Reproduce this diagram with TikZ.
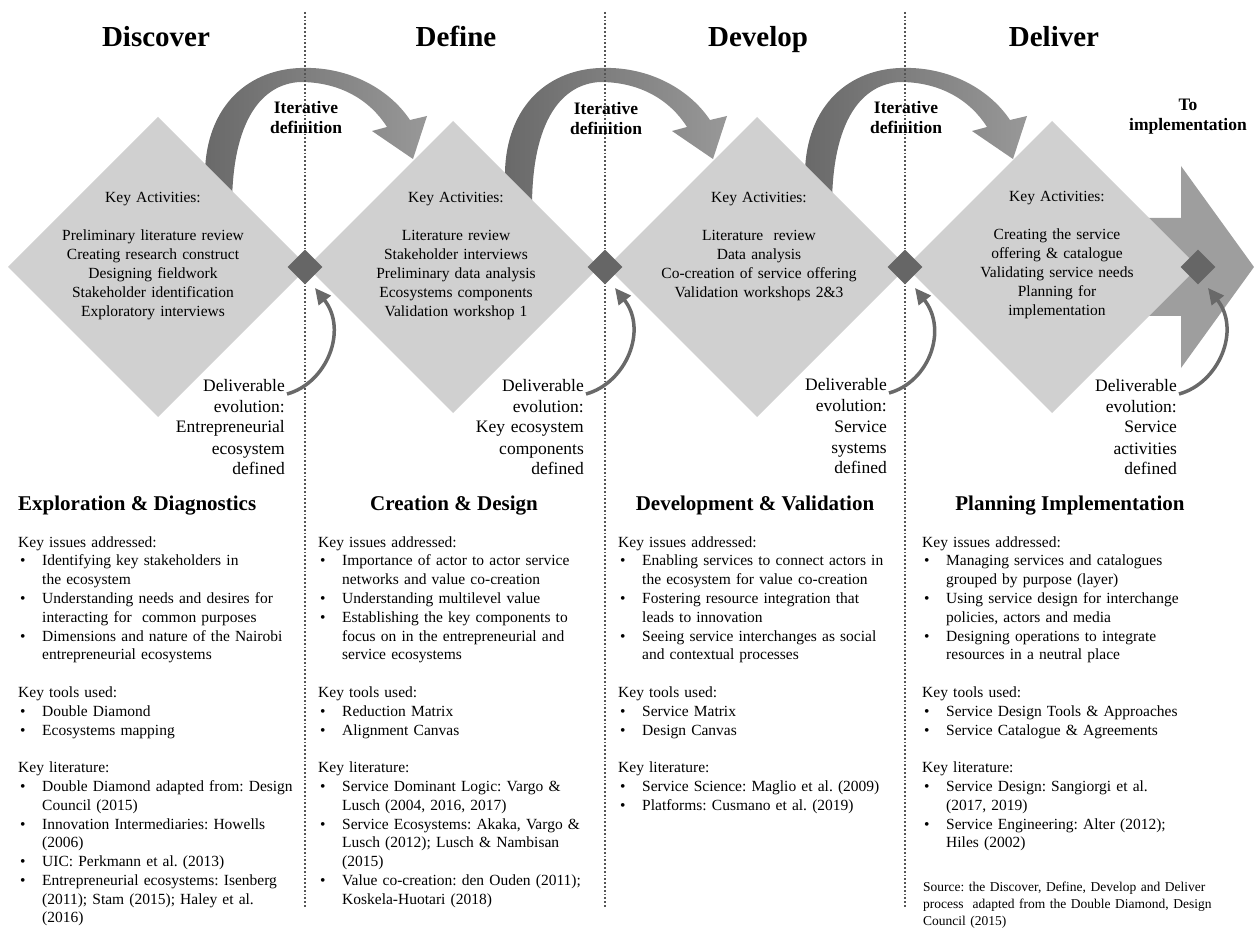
\documentclass[tikz,border=0pt]{standalone}
\usepackage{fontspec}
\setmainfont{Liberation Serif}
\usepackage{xcolor}
\usetikzlibrary{arrows.meta,shapes.geometric}
\definecolor{diamfill}{RGB}{208,208,208}
\definecolor{knotfill}{RGB}{102,102,102}
\definecolor{arcdark}{RGB}{105,105,105}
\definecolor{arclight}{RGB}{152,152,152}
\definecolor{bigarrow}{RGB}{158,158,158}
\definecolor{sepline}{RGB}{85,85,85}
\newcommand{\bul}[1]{\par\hangindent=24pt\hangafter=1\noindent\makebox[24pt][l]{\hspace{2pt}\textbullet}#1\par}
\newcommand{\blankrow}{\par\vspace{18.8pt}\noindent}
\frenchspacing

\begin{document}
\begin{tikzpicture}[x=1pt,y=-1pt,
 phase/.style={font=\fontsize{29}{34}\selectfont\bfseries,inner sep=0,anchor=base},
 bigdiam/.style={diamond,fill=diamfill,inner sep=0,outer sep=0,minimum width=#1,minimum height=#1},
 knot/.style={diamond,fill=knotfill,inner sep=0,minimum width=35,minimum height=35},
 acts/.style={font=\fontsize{15.5}{19}\selectfont,align=center,text width=240,inner sep=0,anchor=base},
 iterlbl/.style={font=\fontsize{17.5}{20}\selectfont\bfseries,align=center,text width=150,inner sep=0,anchor=base},
 deliv/.style={font=\fontsize{17.5}{21}\selectfont,align=right,text width=140,inner sep=0,anchor=base east},
 stage/.style={font=\fontsize{21}{25}\selectfont\bfseries,inner sep=0,anchor=base},
 notes/.style={font=\fontsize{15.5}{18.8}\selectfont,align=left,text width=300,inner sep=0,anchor=base west},
 itarc/.style={left color=arcdark,right color=arclight},
 delarrow/.style={draw=arcdark,line width=3.5pt,-{Triangle[length=16pt,width=15pt]}}]
\useasboundingbox (0,0) rectangle (1254,928);
\coordinate (j1) at (305,267);
\coordinate (j2) at (605,267);
\coordinate (j3) at (905,267);
\coordinate (j4) at (1198,267);
\fill[bigarrow] (1100,218) -- (1181,218) -- (1181,166) -- (1254,267) -- (1181,368) -- (1181,316) -- (1100,316) -- cycle;
\foreach \j in {j1,j2,j3}
  \shade[itarc,shift={(\j)}] (-100,-86) .. controls (-102,-157) and (-60,-197) .. (-5,-199)
    .. controls (45,-201) and (85,-177) .. (105,-147) -- (122,-151) -- (108,-108) -- (67,-136) -- (82,-140)
    .. controls (65,-167) and (35,-185) .. (-5,-185) .. controls (-43,-183) and (-73,-147) .. (-73,-60) -- cycle;
\node[bigdiam=300] (d1) at (158,267) {};
\node[bigdiam=292] (d2) at (453,267) {};
\node[bigdiam=300] (d3) at (757,267) {};
\node[bigdiam=292] (d4) at (1052,267) {};
\foreach \x in {305,605,905}
  \draw[sepline,line width=1.8pt,dotted] (\x,12) -- (\x,908);
\foreach \j/\n in {j1/k1,j2/k2,j3/k3,j4/k4}
  \node[knot] (\n) at (\j) {};
\node[phase] (discover) at (156,47) {Discover};
\node[phase] (define) at (456,47) {Define};
\node[phase] (develop) at (758,47) {Develop};
\node[phase] (deliver) at (1054,47) {Deliver};
\node[iterlbl] (it1) at (306,114) {Iterative\\definition};
\node[iterlbl] (it2) at (606,115) {Iterative\\definition};
\node[iterlbl] (it3) at (906,114) {Iterative\\definition};
\node[iterlbl] (toimp) at (1188,111) {To\\implementation};
\node[acts] (a1) at (153,203) {Key Activities:\\[19pt]Preliminary literature review\\Creating research construct\\Designing fieldwork\\Stakeholder identification\\Exploratory interviews};
\node[acts] (a2) at (456,203) {Key Activities:\\[19pt]Literature review\\Stakeholder interviews\\Preliminary data analysis\\Ecosystems components\\Validation workshop 1};
\node[acts] (a3) at (759,203) {Key Activities:\\[19pt]Literature\ \ review\\Data analysis\\Co-creation of service offering\\Validation workshops 2\&3};
\node[acts] (a4) at (1057,202) {Key Activities:\\[19pt]Creating the service\\offering \& catalogue\\Validating service needs\\Planning for\\implementation};
\node[deliv] (e1) at (285,391) {Deliverable\\evolution:\\Entrepreneurial\\ecosystem\\defined};
\node[deliv] (e2) at (584,391) {Deliverable\\evolution:\\Key ecosystem\\components\\defined};
\node[deliv] (e3) at (887,390) {Deliverable\\evolution:\\Service\\systems\\defined};
\node[deliv] (e4) at (1177,391) {Deliverable\\evolution:\\Service\\activities\\defined};
\foreach \e/\k in {e1/k1,e2/k2,e3/k3,e4/k4}
  \draw[delarrow] ([shift={(2,3)}]\e.base east) .. controls +(40,-11) and +(33,42) .. ([shift={(10,21)}]\k.center);
\node[stage,anchor=base west] (explore) at (18,510) {Exploration \& Diagnostics};
\node[stage] (create) at (454,510) {Creation \& Design};
\node[stage] (devval) at (755,510) {Development \& Validation};
\node[stage] (plan) at (1070,510) {Planning Implementation};
\node[notes] (n1) at (18,547) {Key issues addressed:
\bul{Identifying key stakeholders in\newline the ecosystem}
\bul{Understanding needs and desires for\newline interacting for\ \ common purposes}
\bul{Dimensions and nature of the Nairobi\newline entrepreneurial ecosystems}
\blankrow Key tools used:
\bul{Double Diamond}
\bul{Ecosystems mapping}
\blankrow Key literature:
\bul{Double Diamond adapted from: Design\newline Council (2015)}
\bul{Innovation Intermediaries: Howells\newline (2006)}
\bul{UIC: Perkmann et al. (2013)}
\bul{Entrepreneurial ecosystems: Isenberg\newline (2011); Stam (2015); Haley et al.\newline (2016)}};
\node[notes] (n2) at (318,547) {Key issues addressed:
\bul{Importance of actor to actor service\newline networks and value co-creation}
\bul{Understanding multilevel value}
\bul{Establishing the key components to\newline focus on in the entrepreneurial and\newline service ecosystems}
\blankrow Key tools used:
\bul{Reduction Matrix}
\bul{Alignment Canvas}
\blankrow Key literature:
\bul{Service Dominant Logic: Vargo \&\newline Lusch (2004, 2016, 2017)}
\bul{Service Ecosystems: Akaka, Vargo \&\newline Lusch (2012); Lusch \& Nambisan\newline (2015)}
\bul{Value co-creation: den Ouden (2011);\newline Koskela-Huotari (2018)}};
\node[notes] (n3) at (618,547) {Key issues addressed:
\bul{Enabling services to connect actors in\newline the ecosystem for value co-creation}
\bul{Fostering resource integration that\newline leads to innovation}
\bul{Seeing service interchanges as social\newline and contextual processes}
\blankrow Key tools used:
\bul{Service Matrix}
\bul{Design Canvas}
\blankrow Key literature:
\bul{Service Science: Maglio et al. (2009)}
\bul{Platforms: Cusmano et al. (2019)}};
\node[notes] (n4) at (922,547) {Key issues addressed:
\bul{Managing services and catalogues\newline grouped by purpose (layer)}
\bul{Using service design for interchange\newline policies, actors and media}
\bul{Designing operations to integrate\newline resources in a neutral place}
\blankrow Key tools used:
\bul{Service Design Tools \& Approaches}
\bul{Service Catalogue \& Agreements}
\blankrow Key literature:
\bul{Service Design: Sangiorgi et al.\newline (2017, 2019)}
\bul{Service Engineering: Alter (2012);\newline Hiles (2002)}};
\node[notes,text width=320,font=\fontsize{13.5}{17}\selectfont] (src) at (923,891) {Source: the Discover, Define, Develop and Deliver\\process\ \ adapted from the Double Diamond, Design\\Council (2015)};
\end{tikzpicture}
\end{document}
